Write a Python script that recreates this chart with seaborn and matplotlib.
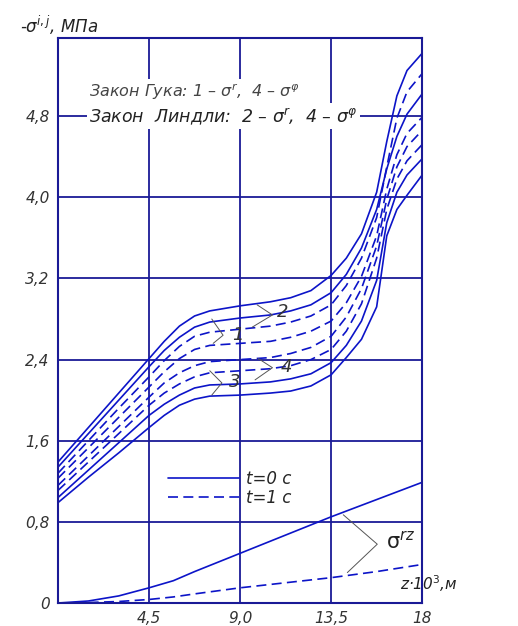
import matplotlib
matplotlib.use("Agg")
import matplotlib.pyplot as plt
import seaborn as sns

# z, 10^3 m
z = [0, 1.5, 3, 4.5, 5.25, 6, 6.75, 7.5, 9, 10.5, 11.5, 12.5, 13.5, 14.25, 15, 15.75, 16.25, 16.75, 17.25, 18]

# stress bundle (top to bottom on the plateau)
sA = [1.39, 1.73, 2.07, 2.41, 2.58, 2.73, 2.83, 2.88, 2.93, 2.97, 3.01, 3.08, 3.23, 3.40, 3.64, 4.05, 4.55, 5.00, 5.25, 5.42]
sB = [1.34, 1.67, 2.00, 2.33, 2.49, 2.62, 2.72, 2.77, 2.81, 2.84, 2.88, 2.94, 3.06, 3.24, 3.50, 3.88, 4.28, 4.60, 4.82, 5.02]
sC = [1.28, 1.60, 1.92, 2.23, 2.39, 2.53, 2.63, 2.67, 2.70, 2.73, 2.77, 2.83, 2.94, 3.13, 3.40, 3.80, 4.30, 4.78, 5.04, 5.22]
sD = [1.23, 1.53, 1.83, 2.13, 2.28, 2.41, 2.50, 2.54, 2.56, 2.58, 2.62, 2.68, 2.78, 2.96, 3.22, 3.62, 4.08, 4.42, 4.63, 4.79]
sE = [1.16, 1.45, 1.74, 2.03, 2.17, 2.27, 2.34, 2.38, 2.40, 2.42, 2.46, 2.52, 2.63, 2.82, 3.10, 3.52, 3.98, 4.30, 4.50, 4.66]
sF = [1.11, 1.39, 1.67, 1.95, 2.07, 2.16, 2.23, 2.27, 2.29, 2.31, 2.34, 2.40, 2.50, 2.68, 2.95, 3.40, 3.88, 4.18, 4.36, 4.52]
sG = [1.04, 1.31, 1.58, 1.85, 1.96, 2.05, 2.12, 2.15, 2.16, 2.18, 2.21, 2.26, 2.37, 2.54, 2.78, 3.18, 3.75, 4.05, 4.22, 4.38]
sH = [0.99, 1.24, 1.48, 1.73, 1.85, 1.95, 2.01, 2.04, 2.05, 2.07, 2.09, 2.14, 2.25, 2.42, 2.60, 2.92, 3.62, 3.88, 4.02, 4.22]
bundle = [(sA, "-"), (sB, "-"), (sC, "--"), (sD, "--"), (sE, "--"), (sF, "--"), (sG, "-"), (sH, "-")]

# sigma rz
z_rz = [0, 1.5, 3, 4.5, 5.7, 6.75, 9, 11.25, 13.5, 15.75, 18]
rz_t0 = [0, 0.02, 0.07, 0.15, 0.22, 0.31, 0.49, 0.67, 0.85, 1.02, 1.19]
rz_t1 = [0, 0.005, 0.015, 0.035, 0.06, 0.09, 0.15, 0.20, 0.25, 0.31, 0.38]

xticks = [4.5, 9, 13.5, 18]
xtick_labels = ["4,5", "9,0", "13,5", "18"]
yticks = [0, 0.8, 1.6, 2.4, 3.2, 4.0, 4.8]
ytick_labels = ["0", "0,8", "1,6", "2,4", "3,2", "4,0", "4,8"]

sns.set_theme(style="white")
plt.rcParams['font.family'] = ['DejaVu Sans']
plt.rcParams['mathtext.fontset'] = 'dejavusans'

line_c = "#0c14c8"
grid_c = "#1a1a96"
txt_c = "#333333"
dash = (0, (6, 3.2))
lw = 1.2

fig = plt.figure(figsize=(5.18, 6.26), dpi=100)
ax = fig.add_axes([0.112, 0.0367, 0.703, 0.9025])

for ys, ls in bundle:
    sns.lineplot(x=z, y=ys, ax=ax, color=line_c, lw=lw,
                 linestyle=ls if ls == "-" else dash, zorder=2)

sns.lineplot(x=z_rz, y=rz_t0, ax=ax, color=line_c, lw=lw, label="t=0 c", zorder=2)
sns.lineplot(x=z_rz, y=rz_t1, ax=ax, color=line_c, lw=lw, linestyle=dash, label="t=1 c", zorder=2)

ax.set_xlim(0, 18)
ax.set_ylim(0, 5.57)
ax.set_xticks(xticks)
ax.set_xticklabels(xtick_labels, fontstyle="italic", color=txt_c, fontsize=11)
ax.set_yticks(yticks)
ax.set_yticklabels(ytick_labels, fontstyle="italic", color=txt_c, fontsize=11)
ax.tick_params(length=0, pad=6)
ax.grid(True, color=grid_c, lw=1.3)
ax.set_axisbelow(True)
for s in ax.spines.values():
    s.set_color(grid_c)
    s.set_linewidth(1.5)
ax.set_xlabel("")
ax.set_ylabel("")

leg = ax.legend(loc="upper left", bbox_to_anchor=(0.26, 0.262), frameon=False,
                handlelength=4.3, handletextpad=0.4, labelspacing=0.05,
                prop={"style": "italic", "size": 12})

# leader marks for the curve numbers
leaders = {
    "2": [(9.84, 2.94), (10.6, 2.84), (9.6, 2.72), (11.1, 2.87)],
    "1": [(7.6, 2.80), (8.16, 2.64), (7.67, 2.56), (8.9, 2.64)],
    "4": [(9.9, 2.41), (10.6, 2.32), (9.74, 2.20), (11.3, 2.33)],
    "3": [(7.5, 2.29), (8.1, 2.17), (7.6, 2.05), (8.75, 2.18)],
}
for lab, pts in leaders.items():
    xs = [p[0] for p in pts[:3]]
    ys = [p[1] for p in pts[:3]]
    ax.plot(xs, ys, color="#555555", lw=0.7, zorder=3)
    ax.text(pts[3][0], pts[3][1], lab, fontsize=13, fontstyle="italic", color=txt_c,
            ha="center", va="center", zorder=4)

ax.plot([14.1, 15.78, 14.3], [0.87, 0.58, 0.30], color="#555555", lw=0.7, zorder=3)
ax.text(16.2, 0.6, r"σ$^{rz}$", fontsize=15, color="#222222", ha="left", va="center")

bbox = dict(facecolor="white", edgecolor="none", pad=2)
ax.text(1.55, 5.04, r"Закон Гука: 1 – σ$^{r}$,  4 – σ$^{\varphi}$", fontsize=11.5,
        fontstyle="italic", color="#444444", ha="left", va="center", bbox=bbox, zorder=5)
ax.text(1.55, 4.8, r"Закон  Линдли:  2 – σ$^{r}$,  4 – σ$^{\varphi}$", fontsize=12.5,
        fontstyle="italic", color="#222222", ha="left", va="center", bbox=bbox, zorder=5)

fig.text(20 / 518, 1 - 25 / 626, r"-σ$^{i,j}$, МПа", fontsize=12, fontstyle="italic",
         color="#222222", ha="left", va="center")
fig.text(400 / 518, 1 - 584 / 626, r"z·10$^{3}$,м", fontsize=11, fontstyle="italic",
         color="#222222", ha="left", va="center")

fig.savefig("out.png", dpi=100)
plt.close(fig)
